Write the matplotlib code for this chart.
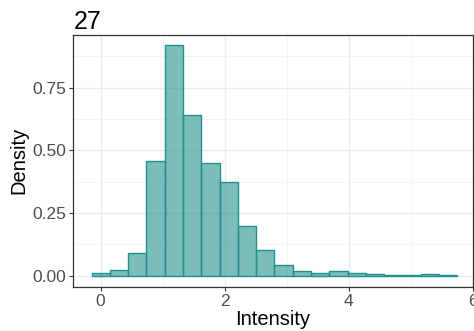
import matplotlib
matplotlib.use("Agg")
import matplotlib.pyplot as plt
import numpy as np

# histogram bins (20 bins)
bin_start = -0.146
bin_width = 0.295
density = [0.011, 0.024, 0.093, 0.458, 0.920, 0.640, 0.451, 0.373, 0.199, 0.104,
           0.044, 0.020, 0.013, 0.021, 0.012, 0.008, 0.003, 0.003, 0.008, 0.005]
x_ticks = [0, 2, 4, 6]
y_ticks = [0.0, 0.25, 0.50, 0.75]
y_tick_labels = ["0.00", "0.25", "0.50", "0.75"]

plt.rcParams['font.family'] = ['Liberation Sans', 'DejaVu Sans']

fig = plt.figure(figsize=(4.74, 3.31), dpi=100)
ax = fig.add_axes([73.3 / 474, 1 - 286.7 / 331, (472.5 - 73.3) / 474, (286.7 - 35) / 331])

lefts = bin_start + bin_width * np.arange(len(density))
ax.bar(lefts, density, width=bin_width, align='edge',
       color='#21918c', alpha=0.6, edgecolor='none', zorder=3)
ax.bar(lefts, density, width=bin_width, align='edge',
       facecolor='none', edgecolor='#21918c', linewidth=1.0, zorder=4)

ax.set_xlim(-0.44, 6.0)
ax.set_ylim(-0.043, 0.959)

ax.set_xticks(x_ticks)
ax.set_yticks(y_ticks)
ax.set_yticklabels(y_tick_labels)
ax.set_xticks([1, 3, 5], minor=True)
ax.set_yticks([0.125, 0.375, 0.625, 0.875], minor=True)
ax.grid(True, which='major', color='#ebebeb', linewidth=1.0, zorder=0)
ax.grid(True, which='minor', color='#f2f2f2', linewidth=0.6, zorder=0)
ax.set_axisbelow(True)

for s in ax.spines.values():
    s.set_color('#333333')
    s.set_linewidth(0.9)

ax.tick_params(which='major', length=3, width=0.8, color='#333333',
               labelcolor='#4d4d4d', labelsize=12.5, pad=2)
ax.tick_params(which='minor', length=0)

ax.set_xlabel("Intensity", fontsize=14.5, color='black', labelpad=1)
ax.set_ylabel("Density", fontsize=14.5, color='black', labelpad=3)
ax.set_title("27", loc='left', fontsize=18, color='black', pad=4)

fig.savefig("out.png", dpi=100)
